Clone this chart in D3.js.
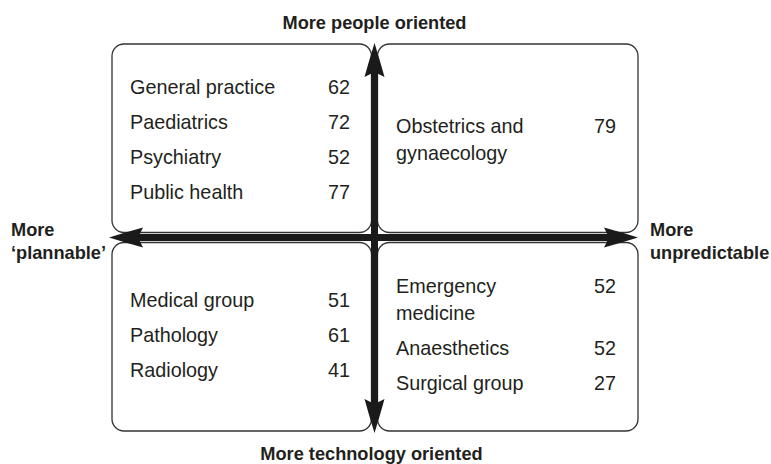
<!DOCTYPE html>
<html>
<head>
<meta charset="utf-8">
<script src="https://cdn.jsdelivr.net/npm/d3@7"></script>
<style>
  body { margin: 0; background: #fff; }
  svg { display: block; font-family: "Liberation Sans", Arial, sans-serif; }
</style>
</head>
<body>
<svg id="chart" width="771" height="464"></svg>
<script>
// Specialties per quadrant, with their scores. Wrapped names use "\n".
const peoplePlannableNames = ["General practice", "Paediatrics", "Psychiatry", "Public health"];
const peoplePlannableValues = [62, 72, 52, 77];

const peopleUnpredictableNames = ["Obstetrics and\ngynaecology"];
const peopleUnpredictableValues = [79];

const techPlannableNames = ["Medical group", "Pathology", "Radiology"];
const techPlannableValues = [51, 61, 41];

const techUnpredictableNames = ["Emergency\nmedicine", "Anaesthetics", "Surgical group"];
const techUnpredictableValues = [52, 52, 27];

// axis end labels
const topLabel = ["More people oriented"];
const bottomLabel = ["More technology oriented"];
const leftLabel = ["More", "\u2018plannable\u2019"];
const rightLabel = ["More", "unpredictable"];

const width = 771;
const height = 464;
const svg = d3.select("#chart");

// the two axes run from -1 to 1, crossing at 0
const x = d3.scaleLinear().domain([-1, 1]).range([109, 638]);
const y = d3.scaleLinear().domain([1, -1]).range([43, 433]);
const cx = 374.5, cy = 237.5;

// quadrant boxes, left/upper side flagged by sign
const quadrants = [
  { names: peoplePlannableNames, values: peoplePlannableValues, side: -1, upper: true, textX: 130, numX: 350 },
  { names: peopleUnpredictableNames, values: peopleUnpredictableValues, side: 1, upper: true, textX: 396, numX: 616 },
  { names: techPlannableNames, values: techPlannableValues, side: -1, upper: false, textX: 130, numX: 350 },
  { names: techUnpredictableNames, values: techUnpredictableValues, side: 1, upper: false, textX: 396, numX: 616 }
];

const itemStep = 35;
const lineStep = 26.5;
const textColor = "#231f20";

quadrants.forEach(function(q) {
  const left = q.side < 0 ? x(-1) + 3 : cx + 3;
  const right = q.side < 0 ? cx - 3 : x(1);
  const top = q.upper ? y(1) + 1 : cy + 5;
  const bottom = q.upper ? cy - 5 : y(-1) - 2;

  svg.append("rect")
    .attr("x", left)
    .attr("y", top)
    .attr("width", right - left)
    .attr("height", bottom - top)
    .attr("rx", 12)
    .attr("fill", "none")
    .attr("stroke", "#333")
    .attr("stroke-width", 1.3);

  // lay out items, centred vertically in the box
  const items = q.names.map(function(n, i) {
    return { lines: n.split("\n"), value: q.values[i] };
  });
  let total = 0;
  items.forEach(function(d, i) {
    d.offset = total;
    total += (d.lines.length - 1) * lineStep + (i < items.length - 1 ? itemStep : 0);
  });
  const startY = (top + bottom) / 2 - total / 2 + (q.upper ? 1.5 : -2);

  const g = svg.append("g");
  items.forEach(function(d) {
    d.lines.forEach(function(line, j) {
      g.append("text")
        .attr("x", q.textX)
        .attr("y", startY + d.offset + j * lineStep)
        .attr("dy", "0.35em")
        .attr("font-size", 19.8)
        .attr("fill", textColor)
        .text(line);
    });
    g.append("text")
      .attr("x", q.numX)
      .attr("y", startY + d.offset)
      .attr("dy", "0.35em")
      .attr("text-anchor", "end")
      .attr("font-size", 19.8)
      .attr("fill", textColor)
      .text(d.value);
  });
});

// axes
const axisColor = "#1a1a1a";
svg.append("line")
  .attr("x1", x(-1) + 25).attr("x2", x(1) - 25)
  .attr("y1", cy).attr("y2", cy)
  .attr("stroke", axisColor).attr("stroke-width", 7);
svg.append("line")
  .attr("x1", cx).attr("x2", cx)
  .attr("y1", y(1) + 25).attr("y2", y(-1) - 25)
  .attr("stroke", axisColor).attr("stroke-width", 7);

// dart-shaped arrowheads, pointing right by default then rotated
const arrow = "M0,0 Q-16,-5 -34,-10 L-29,0 L-34,10 Q-16,5 0,0 Z";
const heads = [
  { px: x(1), py: cy, angle: 0 },
  { px: x(-1), py: cy, angle: 180 },
  { px: cx, py: y(1), angle: -90 },
  { px: cx, py: y(-1), angle: 90 }
];
svg.selectAll("path.head")
  .data(heads)
  .enter()
  .append("path")
  .attr("class", "head")
  .attr("d", arrow)
  .attr("transform", d => "translate(" + d.px + "," + d.py + ") rotate(" + d.angle + ")")
  .attr("fill", axisColor);

// bold end labels
function addLabel(lines, px, py, anchor) {
  lines.forEach(function(t, i) {
    svg.append("text")
      .attr("x", px)
      .attr("y", py + i * 23)
      .attr("text-anchor", anchor)
      .attr("font-size", 18.2)
      .attr("font-weight", "bold")
      .attr("fill", textColor)
      .text(t);
  });
}
addLabel(topLabel, cx, 29, "middle");
addLabel(bottomLabel, cx - 3, 460, "middle");
addLabel(leftLabel, 11, 236, "start");
addLabel(rightLabel, 650, 236, "start");
</script>
</body>
</html>
